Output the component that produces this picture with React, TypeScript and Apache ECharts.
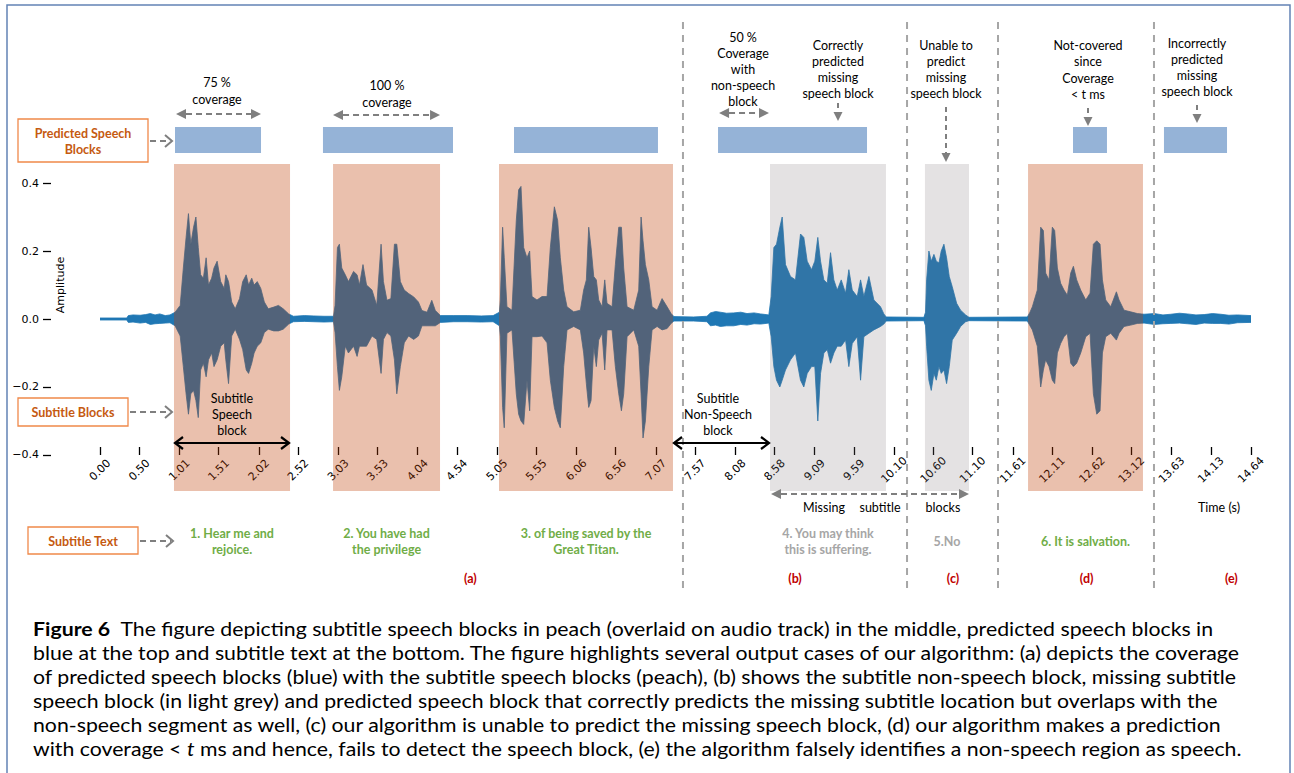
import React, { useEffect, useRef } from 'react';
import * as echarts from 'echarts';

// ---------- data ----------
const TICK_VALUES = [0.0, 0.5, 1.01, 1.51, 2.02, 2.52, 3.03, 3.53, 4.04, 4.54, 5.05, 5.55, 6.06, 6.56, 7.07, 7.57, 8.08, 8.58, 9.09, 9.59, 10.1, 10.6, 11.1, 11.61, 12.11, 12.62, 13.12, 13.63, 14.13, 14.64];
const Y_TICKS = [-0.4, -0.2, 0, 0.2, 0.4];
const T_MAX = 14.64;

const SUBTITLE_BLOCKS = [[0.941, 2.417], [2.964, 4.325], [5.075, 7.288], [11.804, 13.266]];
const MISSING_BLOCKS = [[8.522, 9.997], [10.493, 11.053]];
const PREDICTED_BLOCKS = [[0.954, 2.048], [2.836, 4.49], [5.266, 7.097], [7.861, 9.756], [12.376, 12.808], [13.533, 14.335]];
const SEPARATORS = [7.415, 10.265, 11.422, 13.406];

const SUBTITLE_TEXTS = ['1. Hear me and\nrejoice.', '2. You have had\nthe privilege', '3. of being saved by the\nGreat Titan.', '4. You may think\nthis is suffering.', '5.No', '6. It is salvation.'];
const SUBTITLE_TEXT_KIND = ['spoken', 'spoken', 'spoken', 'missing', 'missing', 'spoken'];
const CASE_LABELS = ['(a)', '(b)', '(c)', '(d)', '(e)'];
const CASE_TIMES = [4.71, 8.84, 10.85, 12.55, 14.39];

const WAVE_T = [0.0, 0.34, 0.36, 0.42, 0.51, 0.58, 0.64, 0.7, 0.76, 0.83, 0.89, 0.955, 1.02, 1.06, 1.095, 1.125, 1.155, 1.19, 1.22, 1.25, 1.28, 1.315, 1.35, 1.38, 1.42, 1.45, 1.49, 1.535, 1.58, 1.6, 1.635, 1.675, 1.72, 1.775, 1.815, 1.86, 1.89, 1.93, 1.96, 2.0, 2.045, 2.09, 2.14, 2.21, 2.27, 2.33, 2.4, 2.46, 2.6, 2.72, 2.85, 2.97, 2.99, 3.02, 3.045, 3.075, 3.12, 3.16, 3.225, 3.27, 3.3, 3.345, 3.39, 3.46, 3.52, 3.575, 3.605, 3.65, 3.7, 3.745, 3.775, 3.82, 3.87, 3.925, 3.99, 4.05, 4.095, 4.16, 4.22, 4.265, 4.33, 4.5, 4.67, 4.85, 5.0, 5.08, 5.092, 5.121, 5.142, 5.176, 5.24, 5.295, 5.325, 5.355, 5.389, 5.431, 5.465, 5.495, 5.558, 5.622, 5.686, 5.728, 5.779, 5.821, 5.855, 5.898, 5.94, 6.025, 6.11, 6.152, 6.186, 6.216, 6.246, 6.28, 6.313, 6.343, 6.386, 6.42, 6.449, 6.513, 6.555, 6.598, 6.632, 6.661, 6.704, 6.789, 6.852, 6.882, 6.907, 6.937, 6.98, 7.022, 7.086, 7.149, 7.213, 7.264, 7.3, 7.55, 7.72, 7.764, 7.83, 7.89, 7.97, 8.06, 8.15, 8.23, 8.32, 8.4, 8.507, 8.537, 8.571, 8.605, 8.647, 8.677, 8.719, 8.783, 8.846, 8.91, 8.952, 8.995, 9.05, 9.092, 9.13, 9.165, 9.207, 9.25, 9.292, 9.334, 9.377, 9.428, 9.483, 9.525, 9.568, 9.631, 9.674, 9.716, 9.78, 9.843, 9.928, 9.97, 10.0, 10.48, 10.5, 10.514, 10.543, 10.573, 10.607, 10.637, 10.671, 10.7, 10.734, 10.768, 10.802, 10.84, 10.896, 10.946, 11.01, 11.053, 11.795, 11.829, 11.859, 11.922, 11.965, 11.999, 12.028, 12.071, 12.113, 12.143, 12.177, 12.219, 12.262, 12.304, 12.347, 12.381, 12.423, 12.474, 12.538, 12.593, 12.635, 12.678, 12.72, 12.75, 12.792, 12.856, 12.928, 12.962, 13.025, 13.11, 13.195, 13.28, 13.41, 13.52, 13.62, 13.73, 13.83, 13.94, 14.044, 14.15, 14.256, 14.36, 14.468, 14.64];
const WAVE_UP = [0.003, 0.003, 0.01, 0.012, 0.011, 0.013, 0.016, 0.012, 0.015, 0.01, 0.012, 0.02, 0.04, 0.15, 0.24, 0.31, 0.22, 0.27, 0.3, 0.21, 0.13, 0.12, 0.18, 0.1, 0.12, 0.15, 0.17, 0.11, 0.09, 0.13, 0.11, 0.05, 0.03, 0.06, 0.11, 0.13, 0.1, 0.12, 0.1, 0.11, 0.09, 0.05, 0.03, 0.035, 0.04, 0.03, 0.015, 0.008, 0.01, 0.009, 0.008, 0.008, 0.04, 0.21, 0.22, 0.15, 0.13, 0.11, 0.14, 0.13, 0.1, 0.16, 0.1, 0.085, 0.04, 0.22, 0.11, 0.055, 0.06, 0.22, 0.22, 0.11, 0.085, 0.075, 0.065, 0.05, 0.025, 0.02, 0.055, 0.025, 0.01, 0.01, 0.01, 0.009, 0.01, 0.02, 0.056, 0.27, 0.18, 0.036, 0.026, 0.29, 0.38, 0.39, 0.21, 0.18, 0.2, 0.066, 0.056, 0.066, 0.066, 0.21, 0.33, 0.29, 0.18, 0.085, 0.036, 0.021, 0.026, 0.085, 0.115, 0.27, 0.21, 0.125, 0.115, 0.056, 0.036, 0.115, 0.046, 0.036, 0.16, 0.27, 0.27, 0.15, 0.036, 0.026, 0.085, 0.3, 0.23, 0.16, 0.115, 0.036, 0.026, 0.06, 0.036, 0.016, 0.007, 0.006, 0.008, 0.018, 0.022, 0.02, 0.017, 0.018, 0.02, 0.016, 0.018, 0.015, 0.012, 0.066, 0.21, 0.22, 0.27, 0.3, 0.16, 0.125, 0.115, 0.25, 0.24, 0.17, 0.145, 0.17, 0.24, 0.17, 0.115, 0.105, 0.195, 0.115, 0.085, 0.115, 0.076, 0.145, 0.085, 0.066, 0.115, 0.066, 0.125, 0.056, 0.036, 0.015, 0.006, 0.005, 0.02, 0.115, 0.2, 0.17, 0.19, 0.17, 0.165, 0.2, 0.22, 0.18, 0.125, 0.095, 0.046, 0.026, 0.012, 0.005, 0.006, 0.02, 0.036, 0.085, 0.27, 0.26, 0.135, 0.115, 0.27, 0.26, 0.15, 0.105, 0.085, 0.07, 0.135, 0.155, 0.115, 0.085, 0.056, 0.076, 0.22, 0.23, 0.22, 0.115, 0.056, 0.036, 0.08, 0.056, 0.026, 0.021, 0.016, 0.014, 0.016, 0.012, 0.014, 0.017, 0.015, 0.012, 0.013, 0.016, 0.014, 0.011, 0.012, 0.01];
const WAVE_LO = [-0.003, -0.003, -0.01, -0.009, -0.012, -0.01, -0.016, -0.014, -0.013, -0.012, -0.011, -0.02, -0.05, -0.14, -0.22, -0.28, -0.22, -0.21, -0.24, -0.29, -0.15, -0.13, -0.17, -0.12, -0.1, -0.14, -0.12, -0.08, -0.07, -0.12, -0.19, -0.05, -0.03, -0.06, -0.09, -0.15, -0.16, -0.13, -0.1, -0.08, -0.07, -0.04, -0.03, -0.035, -0.035, -0.03, -0.015, -0.008, -0.007, -0.008, -0.009, -0.008, -0.04, -0.14, -0.21, -0.17, -0.08, -0.1, -0.08, -0.11, -0.08, -0.08, -0.08, -0.05, -0.06, -0.16, -0.06, -0.04, -0.05, -0.12, -0.22, -0.14, -0.07, -0.05, -0.06, -0.05, -0.02, -0.02, -0.02, -0.02, -0.01, -0.008, -0.008, -0.009, -0.008, -0.02, -0.052, -0.26, -0.32, -0.042, -0.032, -0.22, -0.28, -0.3, -0.31, -0.18, -0.27, -0.052, -0.052, -0.05, -0.07, -0.18, -0.26, -0.3, -0.32, -0.14, -0.032, -0.022, -0.032, -0.1, -0.19, -0.26, -0.24, -0.08, -0.14, -0.062, -0.042, -0.15, -0.032, -0.032, -0.14, -0.22, -0.27, -0.22, -0.052, -0.032, -0.08, -0.22, -0.35, -0.3, -0.14, -0.032, -0.022, -0.032, -0.028, -0.013, -0.006, -0.006, -0.008, -0.02, -0.018, -0.022, -0.02, -0.02, -0.016, -0.018, -0.014, -0.015, -0.012, -0.052, -0.14, -0.18, -0.2, -0.18, -0.15, -0.12, -0.1, -0.18, -0.2, -0.16, -0.14, -0.14, -0.3, -0.16, -0.1, -0.09, -0.13, -0.1, -0.08, -0.08, -0.062, -0.14, -0.072, -0.052, -0.18, -0.052, -0.042, -0.032, -0.022, -0.015, -0.006, -0.005, -0.02, -0.08, -0.18, -0.21, -0.16, -0.18, -0.14, -0.16, -0.15, -0.19, -0.14, -0.062, -0.042, -0.022, -0.008, -0.005, -0.006, -0.02, -0.032, -0.08, -0.2, -0.15, -0.12, -0.14, -0.18, -0.19, -0.1, -0.072, -0.052, -0.042, -0.13, -0.14, -0.13, -0.1, -0.052, -0.042, -0.22, -0.28, -0.27, -0.1, -0.052, -0.042, -0.062, -0.042, -0.022, -0.018, -0.013, -0.012, -0.016, -0.014, -0.013, -0.012, -0.014, -0.016, -0.012, -0.013, -0.013, -0.015, -0.011, -0.01];

const CAPTION_LINES = [
  '{b|Figure 6}  The figure depicting subtitle speech blocks in peach (overlaid on audio track) in the middle, predicted speech blocks in',
  'blue at the top and subtitle text at the bottom. The figure highlights several output cases of our algorithm: (a) depicts the coverage',
  'of predicted speech blocks (blue) with the subtitle speech blocks (peach), (b) shows the subtitle non-speech block, missing subtitle',
  'speech block (in light grey) and predicted speech block that correctly predicts the missing subtitle location but overlaps with the',
  'non-speech segment as well, (c) our algorithm is unable to predict the missing speech block, (d) our algorithm makes a prediction',
  'with coverage < {i|t} ms and hence, fails to detect the speech block, (e) the algorithm falsely identifies a non-speech region as speech.',
];
const CAPTION_RIGHT = [1240, 1277, 1276, 1240, 1274, 1268];

// ---------- styles ----------
const FONT = 'Lato, "Liberation Sans", sans-serif';
const MPL = '"DejaVu Sans", sans-serif';
const GREY = '#7F7F7F';
const WAVE = '#1f77b4';
const PEACH_OVERLAY = 'rgba(190,60,0,0.32)';
const GREY_OVERLAY = 'rgba(118,112,115,0.2)';
const PRED_BLUE = '#95B3D7';
const ORANGE_TEXT = '#C55A11';
const ORANGE_BORDER = '#F0894A';
const GREEN = '#70AD47';
const LIGHT_GREY_TEXT = '#A6A6A6';
const CASE_RED = '#C00000';

const txt = (x: number, y: number, text: string, o: any = {}) => ({
  type: 'text',
  x,
  y,
  silent: true,
  rotation: o.rotation || 0,
  scaleX: o.scaleX ?? 1,
  z: 100,
  style: {
    text,
    fill: o.color || '#000',
    font: `${o.fstyle || 'normal'} ${o.weight || 'normal'} ${o.size || 12.5}px ${o.family || FONT}`,
    align: o.align || 'center',
    verticalAlign: o.va || 'middle',
    textAlign: o.align || 'center',
    textVerticalAlign: o.va || 'middle',
    lineHeight: o.lh || 16,
    rich: o.rich,
  },
});
const seg = (x1: number, y1: number, x2: number, y2: number, color = GREY, w = 2, dash: any = [6, 4]) => ({
  type: 'line',
  silent: true,
  z: 100,
  shape: { x1, y1, x2, y2 },
  style: { stroke: color, lineWidth: w, lineDash: dash },
});
const tri = (pts: number[][], color = GREY) => ({ type: 'polygon', silent: true, z: 100, shape: { points: pts }, style: { fill: color } });
const chev = (pts: number[][], color: string, w: number) => ({
  type: 'polyline',
  silent: true,
  z: 100,
  shape: { points: pts },
  style: { stroke: color, lineWidth: w, fill: null },
});
const dblArrowFilled = (x1: number, x2: number, y: number) => [
  seg(x1 + 10, y, x2 - 10, y),
  tri([[x1, y], [x1 + 10, y - 5], [x1 + 10, y + 5]]),
  tri([[x2, y], [x2 - 10, y - 5], [x2 - 10, y + 5]]),
];
const downArrow = (x: number, y1: number, y2: number) => [
  seg(x, y1, x, y2 - 8, GREY, 2, [5, 4]),
  tri([[x - 4.5, y2 - 9], [x + 4.5, y2 - 9], [x, y2]]),
];
const chevArrow = (x1: number, x2: number, y: number) => [seg(x1, y, x2 - 2, y, GREY, 2, [6, 4]), chev([[x2 - 7, y - 6], [x2, y], [x2 - 7, y + 6]], GREY, 2)];
const blackDbl = (x1: number, x2: number, y: number) => [
  seg(x1 + 1, y, x2 - 1, y, '#000', 2, null),
  chev([[x1 + 9, y - 6], [x1 + 1, y], [x1 + 9, y + 6]], '#000', 2.2),
  chev([[x2 - 9, y - 6], [x2 - 1, y], [x2 - 9, y + 6]], '#000', 2.2),
];
const box = (x: number, y: number, w: number, h: number) => ({
  type: 'rect',
  silent: true,
  z: 99,
  shape: { x, y, width: w, height: h },
  style: { fill: '#fff', stroke: ORANGE_BORDER, lineWidth: 1.3 },
});

const measure = (() => {
  const ctx = document.createElement('canvas').getContext('2d') as CanvasRenderingContext2D;
  return (s: string, font: string) => {
    ctx.font = font;
    return ctx.measureText(s).width;
  };
})();

function buildGraphics(px: (t: number) => number) {
  const els: any[] = [];
  // outer frame
  els.push({ type: 'rect', silent: true, z: 1, shape: { x: 7, y: 5, width: 1283, height: 800 }, style: { fill: 'none', stroke: '#6383B5', lineWidth: 1.5 } });
  // separators
  SEPARATORS.forEach((t) => els.push(seg(px(t), 22, px(t), 588, '#A6A6A6', 2, [7, 6])));

  // left label boxes
  els.push(box(18, 119, 130, 43));
  els.push(txt(83, 141, 'Predicted Speech\nBlocks', { weight: 'bold', size: 12.5, color: ORANGE_TEXT, lh: 16 }));
  els.push(...chevArrow(150, 172, 141));
  els.push(box(18, 398, 110, 28));
  els.push(txt(73, 412, 'Subtitle Blocks', { weight: 'bold', size: 12.5, color: ORANGE_TEXT }));
  els.push(...chevArrow(130, 172, 412));
  els.push(box(28, 527, 110, 27));
  els.push(txt(83, 541, 'Subtitle Text', { weight: 'bold', size: 12.5, color: ORANGE_TEXT }));
  els.push(...chevArrow(140, 173, 541));

  // top annotations
  els.push(txt(217, 90.5, '75 %\ncoverage', { lh: 17 }));
  els.push(...dblArrowFilled(px(PREDICTED_BLOCKS[0][0]) + 1, px(PREDICTED_BLOCKS[0][1]), 114));
  els.push(txt(387, 93.5, '100 %\ncoverage', { lh: 17 }));
  els.push(...dblArrowFilled(px(SUBTITLE_BLOCKS[1][0]), px(SUBTITLE_BLOCKS[1][1]), 115));
  els.push(txt(743, 69, '50 %\nCoverage\nwith\nnon-speech\nblock', { lh: 16 }));
  els.push(...dblArrowFilled(px(PREDICTED_BLOCKS[3][0]) + 1, px(MISSING_BLOCKS[0][0]) - 1, 113));
  els.push(txt(838, 69, 'Correctly\npredicted\nmissing\nspeech block', { lh: 16 }));
  els.push(...downArrow(838, 103, 121));
  els.push(txt(946, 69, 'Unable to\npredict\nmissing\nspeech block', { lh: 16 }));
  els.push(...downArrow(946, 107, 162));
  els.push(txt(1088, 70, 'Not-covered\nsince\nCoverage\n< t ms', { lh: 16.5 }));
  els.push(...downArrow(1088, 108, 126));
  els.push(txt(1197, 67, 'Incorrectly\npredicted\nmissing\nspeech block', { lh: 16 }));
  els.push(...downArrow(1197, 105, 123));

  // in-plot annotations
  const s0 = SUBTITLE_BLOCKS[0];
  els.push(txt((px(s0[0]) + px(s0[1])) / 2, 414, 'Subtitle\nSpeech\nblock', { lh: 16 }));
  els.push(...blackDbl(px(s0[0]), px(s0[1]), 443));
  els.push(txt(718, 414, 'Subtitle\nNon-Speech\nblock', { lh: 16 }));
  els.push(...blackDbl(px(SUBTITLE_BLOCKS[2][1]), px(MISSING_BLOCKS[0][0]), 443));

  // below axis
  els.push(...dblArrowFilled(px(MISSING_BLOCKS[0][0]) + 1, px(MISSING_BLOCKS[1][1]), 494));
  els.push(txt(824, 507, 'Missing'));
  els.push(txt(880, 507, 'subtitle'));
  els.push(txt(943, 507, 'blocks'));
  els.push(txt(1219, 507, 'Time (s)'));
  els.push(txt(60, 285, 'Amplitude', { rotation: Math.PI / 2, size: 11, family: MPL }));

  // subtitle texts under each block
  const centers = [...SUBTITLE_BLOCKS.slice(0, 3), ...MISSING_BLOCKS, SUBTITLE_BLOCKS[3]];
  SUBTITLE_TEXTS.forEach((s, i) => {
    const c = centers[i];
    els.push(
      txt((px(c[0]) + px(c[1])) / 2, 541, s, {
        weight: 'bold',
        size: 12.5,
        color: SUBTITLE_TEXT_KIND[i] === 'spoken' ? GREEN : LIGHT_GREY_TEXT,
        lh: 16,
      }),
    );
  });
  CASE_LABELS.forEach((s, i) => els.push(txt(px(CASE_TIMES[i]), 578, s, { weight: 'bold', size: 12.5, color: CASE_RED })));

  // caption
  const capFont = `19px ${FONT}`;
  CAPTION_LINES.forEach((line, i) => {
    const plain = line.replace(/\{b\|([^}]*)\}/g, '').replace(/\{i\|([^}]*)\}/g, '$1');
    const boldMatch = line.match(/\{b\|([^}]*)\}/);
    let w = measure(plain, capFont);
    if (boldMatch) w += measure(boldMatch[1], `bold ${capFont}`);
    const x0 = 33;
    const sx = Math.max(0.9, Math.min(1.12, (CAPTION_RIGHT[i] - x0) / w));
    els.push(
      txt(x0, 628 + i * 24, line, {
        align: 'left',
        size: 19,
        scaleX: sx,
        rich: {
          b: { font: `normal bold 19px ${FONT}`, fill: '#000' },
          i: { font: `italic normal 19px ${FONT}`, fill: '#000' },
        },
      }),
    );
  });
  return els;
}

export default function App() {
  const ref = useRef<HTMLDivElement>(null);
  useEffect(() => {
    document.body.style.margin = '0';
    const chart = echarts.init(ref.current as HTMLDivElement, null, { renderer: 'svg' });
    const blockData = [
      ...SUBTITLE_BLOCKS.map((b) => [b[0], b[1], 0]),
      ...MISSING_BLOCKS.map((b) => [b[0], b[1], 1]),
      ...PREDICTED_BLOCKS.map((b) => [b[0], b[1], 2]),
    ];
    const option: any = {
      animation: false,
      backgroundColor: '#fff',
      grid: { left: 100, right: 43, top: 164, bottom: 282, containLabel: false },
      xAxis: {
        type: 'value',
        min: 0,
        max: T_MAX,
        offset: -44,
        axisLine: { show: false, onZero: false },
        splitLine: { show: false },
        axisTick: { show: true, length: 8, customValues: TICK_VALUES, lineStyle: { color: '#000', width: 1.3 } },
        axisLabel: {
          customValues: TICK_VALUES,
          rotate: 45,
          align: 'center',
          verticalAlign: 'middle',
          margin: 23,
          fontSize: 11,
          fontFamily: MPL,
          color: '#000',
          formatter: (v: number) => v.toFixed(2),
        },
      },
      yAxis: {
        type: 'value',
        min: -0.5059,
        max: 0.4559,
        offset: 49,
        axisLine: { show: false, onZero: false },
        splitLine: { show: false },
        axisTick: { show: true, length: 8, customValues: Y_TICKS, lineStyle: { color: '#000', width: 1.3 } },
        axisLabel: {
          customValues: Y_TICKS,
          margin: 12,
          fontSize: 11,
          fontFamily: MPL,
          color: '#000',
          formatter: (v: number) => (v < 0 ? '\u2212' : '') + Math.abs(v).toFixed(1),
        },
      },
      series: [
        {
          type: 'line',
          data: WAVE_T.map((t, i) => [t, WAVE_UP[i]]),
          symbol: 'none',
          lineStyle: { color: WAVE, width: 0.8 },
          areaStyle: { color: WAVE, opacity: 1 },
          z: 2,
          silent: true,
        },
        {
          type: 'line',
          data: WAVE_T.map((t, i) => [t, WAVE_LO[i]]),
          symbol: 'none',
          lineStyle: { color: WAVE, width: 0.8 },
          areaStyle: { color: WAVE, opacity: 1 },
          z: 2,
          silent: true,
        },
        {
          type: 'custom',
          data: blockData,
          encode: { x: [0, 1] },
          z: 5,
          silent: true,
          clip: false,
          renderItem: (params: any, api: any) => {
            const s = api.coord([api.value(0), 0]);
            const e = api.coord([api.value(1), 0]);
            const kind = api.value(2);
            const cs = params.coordSys;
            if (kind === 2) {
              return { type: 'rect', shape: { x: s[0], y: cs.y - 37, width: e[0] - s[0], height: 26 }, style: { fill: PRED_BLUE } };
            }
            return {
              type: 'rect',
              shape: { x: s[0], y: cs.y, width: e[0] - s[0], height: cs.height },
              style: { fill: kind === 0 ? PEACH_OVERLAY : GREY_OVERLAY },
            };
          },
        },
      ],
    };
    chart.setOption(option);
    const px = (t: number) => (chart.convertToPixel({ gridIndex: 0 }, [t, 0]) as number[])[0];
    chart.setOption({ graphic: { elements: buildGraphics(px) } });
    return () => chart.dispose();
  }, []);
  return <div ref={ref} style={{ width: 1294, height: 773 }} />;
}
